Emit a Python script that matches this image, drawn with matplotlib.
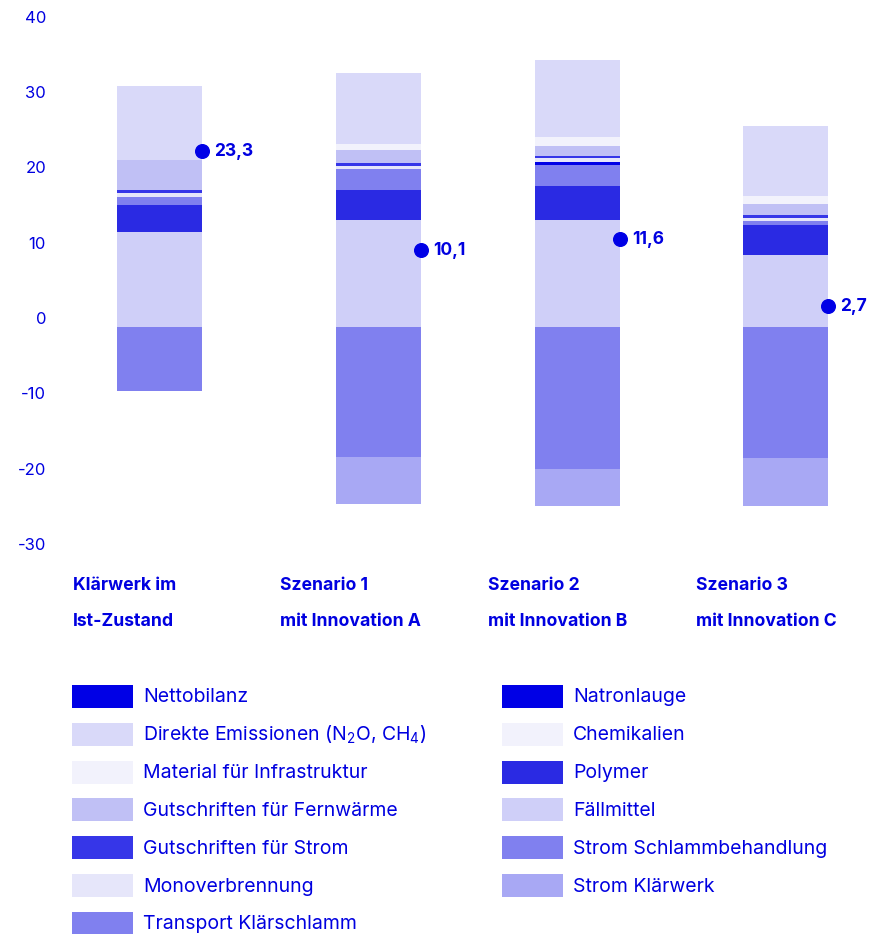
import matplotlib
matplotlib.use("Agg")
import matplotlib.pyplot as plt
from matplotlib.patches import Rectangle
from matplotlib.transforms import ScaledTranslation

plt.rcParams['font.family'] = ['Inter', 'DejaVu Sans']
plt.rcParams['mathtext.default'] = 'regular'

# ---------------- data ----------------
categories = ["Klärwerk im\nIst-Zustand", "Szenario 1\nmit Innovation A",
              "Szenario 2\nmit Innovation B", "Szenario 3\nmit Innovation C"]

# positive stack, bottom -> top
faellmittel   = [12.5, 14.1, 14.1, 9.5]
polymer       = [3.6, 4.0, 4.5, 4.0]
transport     = [1.1, 2.8, 2.8, 0.5]
natronlauge   = [0.0, 0.0, 0.5, 0.0]
monoverbr     = [0.5, 0.4, 0.5, 0.4]
gs_strom      = [0.4, 0.4, 0.3, 0.4]
gs_fernwaerme = [4.0, 1.7, 1.3, 1.5]
material      = [0.0, 0.9, 1.1, 1.0]
direkte       = [9.8, 9.4, 10.3, 9.3]
chemikalien   = [0.0, 0.0, 0.0, 0.0]
# negative stack, top -> bottom
strom_schlamm = [-8.6, -17.3, -18.9, -17.5]
strom_klaer   = [0.0, -6.3, -4.9, -6.4]

nettobilanz = [23.3, 10.1, 11.6, 2.7]

yticks = [40, 30, 20, 10, 0, -10, -20, -30]

C_NETTO = '#0000e6'
colors = {
    'Nettobilanz': C_NETTO,
    'Direkte Emissionen (N$_2$O, CH$_4$)': '#d9d9f9',
    'Material für Infrastruktur': '#f2f2fc',
    'Gutschriften für Fernwärme': '#c0c0f5',
    'Gutschriften für Strom': '#3636e8',
    'Monoverbrennung': '#e6e6fa',
    'Transport Klärschlamm': '#8080ef',
    'Natronlauge': '#0000e6',
    'Chemikalien': '#f2f2fc',
    'Polymer': '#2a2ae3',
    'Fällmittel': '#cfcff8',
    'Strom Schlammbehandlung': '#8080ef',
    'Strom Klärwerk': '#a8a8f4',
}

pos_series = [
    ('Fällmittel', faellmittel),
    ('Polymer', polymer),
    ('Transport Klärschlamm', transport),
    ('Natronlauge', natronlauge),
    ('Monoverbrennung', monoverbr),
    ('Gutschriften für Strom', gs_strom),
    ('Gutschriften für Fernwärme', gs_fernwaerme),
    ('Material für Infrastruktur', material),
    ('Chemikalien', chemikalien),
    ('Direkte Emissionen (N$_2$O, CH$_4$)', direkte),
]
neg_series = [
    ('Strom Schlammbehandlung', strom_schlamm),
    ('Strom Klärwerk', strom_klaer),
]

legend_left = ['Nettobilanz', 'Direkte Emissionen (N$_2$O, CH$_4$)', 'Material für Infrastruktur',
               'Gutschriften für Fernwärme', 'Gutschriften für Strom', 'Monoverbrennung',
               'Transport Klärschlamm']
legend_right = ['Natronlauge', 'Chemikalien', 'Polymer', 'Fällmittel',
                'Strom Schlammbehandlung', 'Strom Klärwerk']

# ---------------- layout ----------------
W, H = 888, 934
fig = plt.figure(figsize=(W / 100, H / 100), dpi=100)
TXT = '#0000e0'

y_top_px, y_bot_px = 25.3, 552.4   # pixel rows of 40 and -30
ax = fig.add_axes([0, 1 - y_bot_px / H, 1, (y_bot_px - y_top_px) / H])
ax.set_xlim(0, W)
ax.set_ylim(-30, 40)
ax.axis('off')

bar_x = [159.5, 378.5, 577.5, 785.5]
bar_w = 85

bottom = [0.0] * 4
for name, vals in pos_series:
    ax.bar(bar_x, vals, width=bar_w, bottom=bottom, color=colors[name], linewidth=0)
    bottom = [b + v for b, v in zip(bottom, vals)]
bottom = [0.0] * 4
for name, vals in neg_series:
    ax.bar(bar_x, vals, width=bar_w, bottom=bottom, color=colors[name], linewidth=0)
    bottom = [b + v for b, v in zip(bottom, vals)]

dot_x = [x + bar_w / 2 for x in bar_x]
ax.plot(dot_x, nettobilanz, 'o', color=C_NETTO, markersize=9.8, zorder=5)
for x, v in zip(dot_x, nettobilanz):
    ax.annotate(f"{v:.1f}".replace('.', ','), (x, v), xytext=(8.5, 0), textcoords='offset points',
                ha='left', va='center', fontsize=12.5, fontweight='bold', color=TXT)

# y tick labels (placed slightly above their value, as in the reference)
off = ScaledTranslation(0, 7 / 100, fig.dpi_scale_trans)
for t in yticks:
    ax.text(46, t, f"{t}", transform=ax.transData + off, ha='right', va='center',
            fontsize=12, color=TXT)

# category labels
lab_x = [73, 280, 488, 696]
for x, lab in zip(lab_x, categories):
    l1, l2 = lab.split('\n')
    fig.text(x / W, 1 - 585 / H, l1, ha='left', va='center', fontsize=12.7,
             fontweight='bold', color=TXT)
    fig.text(x / W, 1 - 622 / H, l2, ha='left', va='center', fontsize=12.7,
             fontweight='bold', color=TXT)

# legend
row0, dy = 696.5, 37.8
sw_w, sw_h = 61, 23
for col, (sx, tx) in zip([legend_left, legend_right], [(72, 143), (502, 573)]):
    for i, name in enumerate(col):
        yc = row0 + i * dy
        fig.patches.append(Rectangle((sx / W, 1 - (yc + sw_h / 2) / H), sw_w / W, sw_h / H,
                                     transform=fig.transFigure, color=colors[name], linewidth=0))
        fig.text(tx / W, 1 - (yc + 1) / H, name, ha='left', va='center', fontsize=14, color=TXT)

fig.savefig('out.png', dpi=100)
